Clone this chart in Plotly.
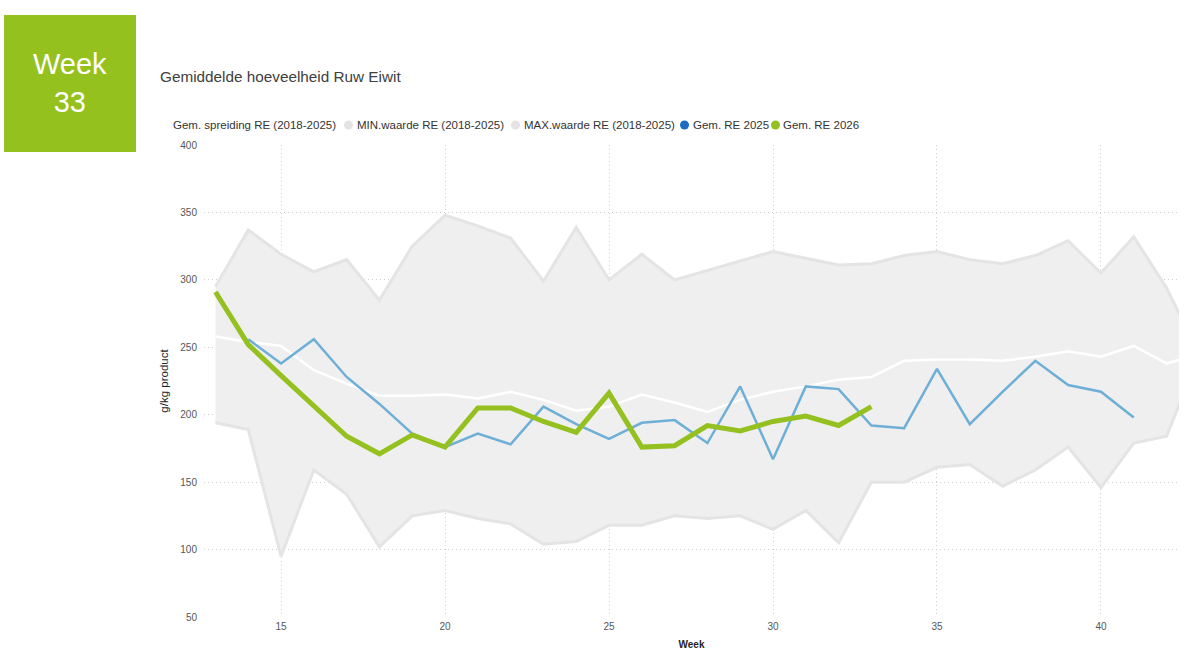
import plotly.graph_objects as go

# Gemiddelde hoeveelheid Ruw Eiwit (g/kg product) per week
weeks = list(range(13, 44))
max_re = [295, 337, 319, 306, 315, 285, 325, 348, 340, 331, 299, 339, 300, 319, 300, 307,
          314, 321, 316, 311, 312, 318, 321, 315, 312, 318, 329, 305, 332, 294, 245]
min_re = [194, 189, 95, 159, 141, 102, 125, 129, 123, 119, 104, 106, 118, 118, 125, 123,
          125, 115, 129, 105, 150, 150, 161, 163, 147, 159, 176, 146, 179, 184, 245]
mean_re = [258, 254, 251, 233, 223, 214, 214, 215, 212, 217, 211, 203, 206, 215, 209, 202,
           211, 217, 221, 226, 228, 240, 241, 241, 240, 243, 247, 243, 251, 238, 245]

weeks_2025 = list(range(14, 42))
re_2025 = [256, 238, 256, 228, 208, 186, 176, 186, 178, 206, 193, 182, 194, 196, 179, 221,
           167, 221, 219, 192, 190, 234, 193, 217, 240, 222, 217, 198]

weeks_2026 = list(range(13, 34))
re_2026 = [291, 252, 229, 206, 184, 171, 185, 176, 205, 205, 195, 187, 216, 176, 177, 192,
           188, 195, 199, 192, 206]

current_week = 33

legend_labels = ["Gem. spreiding RE (2018-2025)", "MIN.waarde RE (2018-2025)",
                 "MAX.waarde RE (2018-2025)", "Gem. RE 2025", "Gem. RE 2026"]
legend_colors = [None, "#e3e3e3", "#e3e3e3", "#1c6dc1", "#94c11f"]

x_ticks = [15, 20, 25, 30, 35, 40]
y_ticks = [50, 100, 150, 200, 250, 300, 350, 400]

FONT = "Segoe UI, Liberation Sans, Arial, sans-serif"

# figure fills the window (body margin removed below)
W, H = 1187, 663
# plot area in window pixels: x 204..1179, y 145..617
L, R, T, B = 204, 1187 - 1179, 145, 663 - 617


def px(x):
    # window x pixel -> paper coordinate
    return (x - L) / (W - L - R)


def py(y):
    # window y pixel -> paper coordinate
    return (H - B - y) / (H - T - B)


fig = go.Figure()

# spread band between min and max
fig.add_trace(go.Scatter(x=weeks, y=min_re, mode="lines",
                         line=dict(color="#e4e4e4", width=3), showlegend=False))
fig.add_trace(go.Scatter(x=weeks, y=max_re, mode="lines",
                         line=dict(color="#e4e4e4", width=3),
                         fill="tonexty", fillcolor="#efefef", showlegend=False))
fig.add_trace(go.Scatter(x=weeks, y=mean_re, mode="lines",
                         line=dict(color="#ffffff", width=2.5), showlegend=False))
fig.add_trace(go.Scatter(x=weeks_2025, y=re_2025, mode="lines",
                         line=dict(color="#6eafd7", width=2.5), showlegend=False))
fig.add_trace(go.Scatter(x=weeks_2026, y=re_2026, mode="lines",
                         line=dict(color="#94c11f", width=5), showlegend=False))

shapes = []
annotations = []

# week card top left
shapes.append(dict(type="rect", xref="paper", yref="paper",
                   x0=px(4), x1=px(136), y0=py(152), y1=py(15),
                   fillcolor="#95c11f", line=dict(width=0)))
annotations.append(dict(text=f"Week<br>{current_week}", xref="paper", yref="paper",
                        x=px(70), y=py(83), xanchor="center", yanchor="middle",
                        showarrow=False, font=dict(family=FONT, size=29, color="#ffffff")))

# chart title
annotations.append(dict(text="Gemiddelde hoeveelheid Ruw Eiwit", xref="paper", yref="paper",
                        x=px(158), y=py(77), xanchor="left", yanchor="middle",
                        showarrow=False, font=dict(family=FONT, size=15.3, color="#404040")))

# legend drawn by hand (Power BI style: small dot, text close to it)
text_x = [171, 355, 522, 691, 780.5]
dot_x = [None, 348.5, 515.5, 684.5, 775.5]
for label, color, tx, dx in zip(legend_labels, legend_colors, text_x, dot_x):
    annotations.append(dict(text=label, xref="paper", yref="paper",
                            x=px(tx), y=py(125), xanchor="left", yanchor="middle",
                            showarrow=False, font=dict(family=FONT, size=11.5, color="#333333")))
    if color:
        shapes.append(dict(type="circle", xref="paper", yref="paper",
                           xsizemode="pixel", ysizemode="pixel",
                           xanchor=px(dx), yanchor=py(125),
                           x0=-4.5, x1=4.5, y0=-4.5, y1=4.5,
                           fillcolor=color, line=dict(width=0)))

fig.update_layout(
    width=W, height=H,
    margin=dict(l=L, r=R, t=T, b=B),
    paper_bgcolor="#ffffff", plot_bgcolor="#ffffff",
    font=dict(family=FONT, color="#555555"),
    showlegend=False,
    hovermode=False,
    shapes=shapes,
    annotations=annotations,
    xaxis=dict(range=[12.65, 42.38], tickvals=x_ticks, ticks="",
               showgrid=True, gridcolor="#cfcfcf", griddash="1px,3px", gridwidth=1,
               zeroline=False, showline=False, ticklabelstandoff=2,
               tickfont=dict(family=FONT, size=10, color="#555555"),
               title=dict(text="<b>Week</b>", standoff=9,
                          font=dict(family=FONT, size=10, color="#252423"))),
    yaxis=dict(range=[50, 400], tickvals=y_ticks, ticks="",
               showgrid=True, gridcolor="#cfcfcf", griddash="1px,3px", gridwidth=1,
               zeroline=False, showline=False, ticklabelstandoff=6,
               tickfont=dict(family=FONT, size=10, color="#555555"),
               title=dict(text="g/kg product", standoff=9,
                          font=dict(family=FONT, size=11.5, color="#252423"))),
)

# drop the default 8px body margin so the figure starts at the window corner
fig.write_html("out.html", config={"displayModeBar": False},
               post_script="document.body.style.margin = '0px';")
